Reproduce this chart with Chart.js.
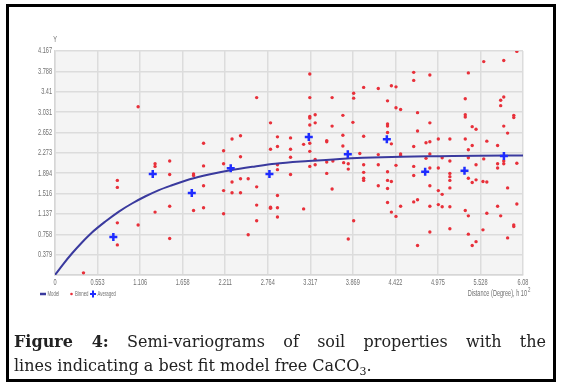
<!DOCTYPE html>
<html>
<head>
<meta charset="utf-8">
<script src="https://cdn.jsdelivr.net/npm/chart.js@4.4.1/dist/chart.umd.min.js"></script>
<style>
  html,body{margin:0;padding:0;background:#fff;}
  #wrap{position:relative;width:568px;height:384px;overflow:hidden;}
  #c{position:absolute;left:0;top:0;}
  #frame{position:absolute;left:6px;top:4px;width:550px;height:378px;border:3px solid #000;box-sizing:border-box;pointer-events:none;}
  #cap{position:absolute;left:14px;top:330px;width:532px;font-family:"DejaVu Serif",serif;font-size:16px;color:#222;line-height:24px;}
  #cap .l1{text-align:justify;text-align-last:justify;white-space:nowrap;}
  #cap b{font-weight:bold;}
</style>
</head>
<body>
<div id="wrap">
  <canvas id="c" width="568" height="310"></canvas>
  <div id="frame"></div>
  <div id="cap">
    <div class="l1"><b>Figure 4:</b> Semi-variograms of soil properties with the</div>
    <div>lines indicating a best fit model free CaCO<sub style="font-size:11px;line-height:0">3</sub>.</div>
  </div>
</div>
<script>
const xTicks = [0, 0.553, 1.106, 1.658, 2.211, 2.764, 3.317, 3.869, 4.422, 4.975, 5.528, 6.08];
const yTicks = [0, 0.379, 0.758, 1.137, 1.516, 1.894, 2.273, 2.652, 3.031, 3.41, 3.788, 4.167];

const modelX = [0, 0.1, 0.22, 0.35, 0.48, 0.65, 0.83, 1.0, 1.17, 1.35, 1.52, 1.75, 2.0, 2.28, 2.6, 2.86, 3.29, 3.7, 4.0, 4.5, 5.0, 5.5, 6.08];
const modelY = [0, 0.19, 0.40, 0.605, 0.79, 0.99, 1.18, 1.33, 1.46, 1.58, 1.67, 1.78, 1.87, 1.95, 2.02, 2.07, 2.12, 2.16, 2.18, 2.20, 2.21, 2.22, 2.225];

const averagedX = [0.758, 1.270, 1.777, 2.283, 2.786, 3.297, 3.804, 4.311, 4.809, 5.320, 5.832];
const averagedY = [0.707, 1.880, 1.526, 1.986, 1.880, 2.569, 2.247, 2.526, 1.923, 1.941, 2.215];

const binned = [
 [1.08,3.13],[1.93,2.45],[1.49,2.12],
 [2.62,3.30],[3.31,3.74],[3.31,3.30],[3.60,3.30],[3.88,3.38],[3.88,3.29],[4.01,3.49],
 [3.38,2.98],[3.31,2.95],[3.31,2.92],[3.31,2.79],[3.38,2.83],[3.74,2.97],[3.60,2.77],[3.87,2.84],[2.80,2.83],
 [2.41,2.59],[2.30,2.53],[2.19,2.31],[2.41,2.20],[2.89,2.57],[3.06,2.55],[2.89,2.39],[2.80,2.34],[3.06,2.34],
 [3.23,2.43],[3.31,2.45],[3.31,2.30],[3.06,2.19],[3.53,2.50],[3.53,2.48],[3.74,2.60],[3.74,2.40],[4.01,2.58],
 [3.96,2.26],[3.38,2.15],
 [6.00,4.16],[5.57,3.97],[5.83,3.99],[4.66,3.77],[4.66,3.62],[4.87,3.72],[5.37,3.76],[4.37,3.52],[4.43,3.50],[4.20,3.47],
 [4.32,3.24],[4.43,3.11],[4.49,3.08],[5.33,3.28],[5.83,3.31],[5.79,3.25],[5.79,3.15],[4.71,3.02],[5.33,2.98],[5.33,2.94],
 [5.96,2.97],[5.96,2.93],[4.32,2.81],[4.32,2.77],[4.32,2.65],[4.87,2.83],[5.42,2.76],[5.47,2.71],[5.83,2.77],[5.88,2.64],
 [4.71,2.68],[4.98,2.53],[5.13,2.53],[5.33,2.53],[4.87,2.48],[4.82,2.46],[4.37,2.44],[5.42,2.41],[5.61,2.49],[5.75,2.41],
 [4.66,2.39],[5.37,2.33],[4.20,2.24],[4.49,2.25],[4.49,2.22],[4.87,2.25],[4.82,2.17],[5.03,2.18],[5.13,2.12],[5.37,2.18],[5.57,2.16],
 [0.37,0.04],[0.81,0.56],[0.81,0.97],[0.81,1.76],[0.81,1.63],[1.08,0.93],[1.30,2.07],[1.30,2.02],[1.30,1.17],[1.49,1.87],
 [1.49,1.28],[1.49,0.68],[1.80,1.88],[1.80,1.85],[1.80,1.20],[1.93,2.03],[1.93,1.66],[1.93,1.25],
 [2.19,2.07],[2.30,1.73],[2.41,1.79],[2.51,1.79],[2.19,1.57],[2.30,1.53],[2.41,1.53],[2.62,1.64],[2.19,1.14],[2.62,1.30],
 [2.62,1.01],[2.51,0.75],[2.80,1.26],[2.80,1.24],[2.89,1.48],[2.89,1.25],[2.89,1.08],[2.89,2.05],[2.89,1.96],[3.06,1.87],
 [3.23,1.23],[3.31,2.02],[3.38,2.05],[3.53,2.10],[3.53,1.89],[3.60,1.60],[3.75,2.09],[3.81,2.07],[3.81,1.97],[4.01,2.05],
 [4.01,1.91],[4.01,1.80],[4.01,1.76],[3.88,1.01],[3.81,0.67],[3.61,2.12],
 [4.20,2.05],[4.43,2.04],[4.66,2.02],[4.32,1.92],[4.66,1.85],[4.87,1.99],[4.98,1.99],
 [5.13,1.89],[5.13,1.83],[5.13,1.76],[5.13,1.62],[4.32,1.76],[4.37,1.74],[4.20,1.66],[4.32,1.61],[4.87,1.66],[4.98,1.57],
 [5.03,1.50],[4.66,1.36],[4.71,1.40],[4.32,1.35],[4.49,1.28],[4.37,1.17],[4.43,1.09],[4.87,1.28],[4.98,1.31],[5.03,1.27],
 [5.13,1.27],[4.87,0.80],[4.71,0.55],[5.13,0.86],[5.33,1.20],[5.37,1.10],[5.37,0.76],[5.47,0.62],[5.42,0.55],[5.56,0.84],
 [5.61,1.15],[5.75,1.28],[5.79,1.10],[5.88,0.69],[5.96,0.93],[5.96,0.90],[6.00,1.32],[5.37,1.80],[5.42,1.72],[5.47,1.77],
 [5.56,1.74],[5.61,1.73],[5.88,1.62],[5.47,2.05],[5.75,2.07],[5.75,1.99],[5.83,2.12],[5.83,2.07],[6.00,2.08]
];

const yAxisLabel = 'Y';
const xAxisLabel = 'Distance (Degree), h 10';
const xAxisLabelSup = '2';
const seriesNames = ['Model', 'Binned', 'Averaged'];

const FONT = '"Liberation Sans",Arial,sans-serif';
const SQ = 0.62;           // horizontal squeeze for the condensed axis font
const TXT = '#707070';
const COL_MODEL = '#3a3a9e';
const COL_BIN = '#e8303a';
const COL_AVG = '#1e2cff';

function narrowText(ctx, s, x, y, align) {
  ctx.save();
  ctx.translate(x, y);
  ctx.scale(SQ, 1);
  ctx.textAlign = align;
  ctx.fillText(s, 0, 0);
  ctx.restore();
}

const bgPlugin = {
  id: 'bg',
  beforeDraw(chart) {
    const {ctx, chartArea: a} = chart;
    ctx.save();
    ctx.fillStyle = '#f4f4f4';
    ctx.fillRect(a.left, a.top, a.right - a.left, a.bottom - a.top);
    ctx.restore();
  },
  afterDraw(chart) {
    const {ctx, chartArea: a, scales} = chart;
    ctx.save();
    ctx.fillStyle = TXT;
    ctx.textBaseline = 'middle';
    ctx.font = '9px ' + FONT;
    // tick labels
    xTicks.forEach(v => narrowText(ctx, String(v), scales.x.getPixelForValue(v), a.bottom + 7.5, 'center'));
    yTicks.forEach(v => { if (v !== 0) narrowText(ctx, String(v), a.left - 3, scales.y.getPixelForValue(v), 'right'); });
    // axis titles
    narrowText(ctx, yAxisLabel, a.left, a.top - 11, 'center');
    narrowText(ctx, xAxisLabel, a.right + 4, a.bottom + 19, 'right');
    ctx.font = '7px ' + FONT;
    narrowText(ctx, xAxisLabelSup, a.right + 5, a.bottom + 15, 'left');
    // legend
    ctx.font = '7px ' + FONT;
    const ly = a.bottom + 19;
    let x = 40;
    ctx.strokeStyle = COL_MODEL; ctx.lineWidth = 2.5;
    ctx.beginPath(); ctx.moveTo(x, ly); ctx.lineTo(x + 6, ly); ctx.stroke();
    ctx.fillStyle = TXT;
    narrowText(ctx, seriesNames[0], x + 7.5, ly, 'left');
    x = 71.5;
    ctx.fillStyle = COL_BIN;
    ctx.beginPath(); ctx.arc(x, ly, 1.3, 0, Math.PI * 2); ctx.fill();
    ctx.fillStyle = TXT;
    narrowText(ctx, seriesNames[1], x + 3.5, ly, 'left');
    x = 93;
    ctx.strokeStyle = COL_AVG; ctx.lineWidth = 2;
    ctx.beginPath(); ctx.moveTo(x - 3, ly); ctx.lineTo(x + 3, ly); ctx.moveTo(x, ly - 3.5); ctx.lineTo(x, ly + 3.5); ctx.stroke();
    ctx.fillStyle = TXT;
    narrowText(ctx, seriesNames[2], x + 4.5, ly, 'left');
    ctx.restore();
  }
};

new Chart(document.getElementById('c'), {
  type: 'scatter',
  data: {
    datasets: [
      {
        label: seriesNames[0], type: 'line',
        data: modelX.map((x, i) => ({x, y: modelY[i]})),
        borderColor: COL_MODEL, borderWidth: 2, pointRadius: 0, cubicInterpolationMode: 'monotone', fill: false, order: 2
      },
      {
        label: seriesNames[1],
        data: binned.map(p => ({x: p[0], y: p[1]})),
        backgroundColor: COL_BIN, borderColor: COL_BIN, borderWidth: 0, pointRadius: 1.7, order: 3
      },
      {
        label: seriesNames[2],
        data: averagedX.map((x, i) => ({x, y: averagedY[i]})),
        pointStyle: 'cross', pointRadius: 4, borderColor: COL_AVG, backgroundColor: COL_AVG, borderWidth: 2.5, order: 1
      }
    ]
  },
  options: {
    responsive: false, animation: false, devicePixelRatio: 1,
    layout: {padding: {left: 0, right: 45, top: 51, bottom: 15}},
    plugins: {legend: {display: false}, tooltip: {enabled: false}},
    scales: {
      x: {
        type: 'linear', min: 0, max: 6.08,
        afterBuildTicks: s => { s.ticks = xTicks.map(v => ({value: v})); },
        afterFit: s => { s.height = 20; },
        grid: {color: '#dcdcdc', lineWidth: 1.5, drawTicks: false},
        border: {color: '#d6d6d6', width: 1.5},
        ticks: {display: false}
      },
      y: {
        type: 'linear', min: 0, max: 4.167,
        afterBuildTicks: s => { s.ticks = yTicks.map(v => ({value: v})); },
        afterFit: s => { s.width = 55; },
        grid: {color: '#dcdcdc', lineWidth: 1.5, drawTicks: false},
        border: {color: '#d6d6d6', width: 1.5},
        ticks: {display: false}
      }
    }
  },
  plugins: [bgPlugin]
});
</script>
</body>
</html>
